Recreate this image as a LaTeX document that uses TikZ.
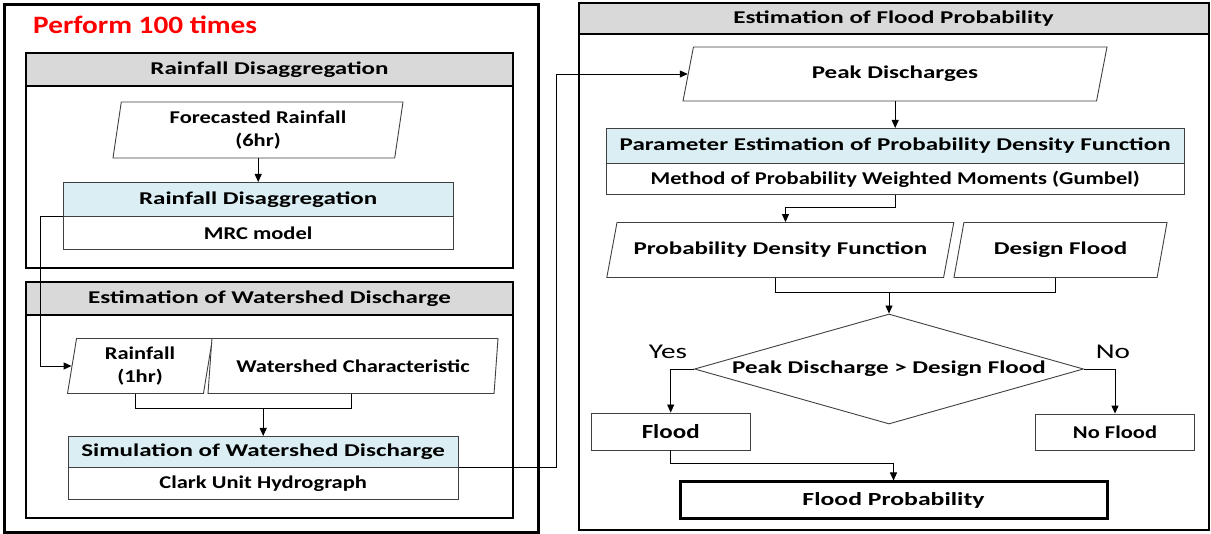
\documentclass[tikz,border=0pt]{standalone}
\usepackage{fontspec}
\setmainfont{Carlito}[FakeStretch=1.39]
\newfontfamily\widebody{Carlito}[FakeStretch=1.25]
\newfontfamily\titlefont{Carlito}[FakeStretch=1.17]
\usetikzlibrary{shapes.geometric,arrows.meta,calc}
\definecolor{hdrgray}{HTML}{D9D9D9}
\definecolor{hdrblue}{HTML}{DAEEF3}
\definecolor{edgegray}{HTML}{404040}
\begin{document}
\begin{tikzpicture}[x=1pt,y=-1pt,
  txt/.style={font=\fontsize{18}{23}\selectfont\bfseries},
  txtb/.style={font=\widebody\fontsize{18}{23}\selectfont\bfseries},
  frame/.style={draw=black,line width=2pt,inner sep=0pt,anchor=north west},
  grayhead/.style={frame,fill=hdrgray,txt},
  io/.style={trapezium,trapezium stretches body,trapezium left angle=#1,
    trapezium right angle=180-#1,draw=edgegray,line width=0.9pt,fill=white,
    inner sep=0pt,txt,align=center},
  head/.style={draw=edgegray,line width=0.9pt,fill=hdrblue,inner sep=0pt,txt,anchor=north west},
  body/.style={draw=edgegray,line width=0.9pt,fill=white,inner sep=0pt,txtb,anchor=north west},
  box/.style={draw=edgegray,line width=0.9pt,fill=white,inner sep=0pt,txt},
  flow/.style={draw=black,line width=0.9pt},
  arr/.style={flow,-{Triangle[length=8pt,width=7pt]}},
  yesno/.style={font=\fontsize{21}{24}\selectfont},
]
\useasboundingbox (0,0) rectangle (1211,534);

% ---- left block: repeated simulation ----
\node[frame,line width=3pt,minimum width=534,minimum height=528] (loop) at (3,3) {};
\node[anchor=base west,inner sep=0pt,text=red,font=\titlefont\fontsize{25}{28}\selectfont\bfseries] (loopttl) at (33,34) {Perform 100 times};

% rainfall disaggregation section
\node[frame,minimum width=487,minimum height=215] (rdsec) at (25,52) {};
\node[grayhead,minimum width=487,minimum height=33.5] (rdsech) at (25,52) {Rainfall Disaggregation};
\node[io=77.8,txtb,minimum width=290,minimum height=56] (fr) at (258,130) {Forecasted Rainfall\\(6hr)};
\node[head,minimum width=390.5,minimum height=34] (rdh) at (62.5,182) {Rainfall Disaggregation};
\node[body,minimum width=390.5,minimum height=33] (rdb) at (62.5,216) {MRC model};

% watershed discharge section
\node[frame,minimum width=487,minimum height=236] (wssec) at (25,281) {};
\node[grayhead,minimum width=487,minimum height=33] (wssech) at (25,281) {Estimation of Watershed Discharge};
\node[io=76.7,txtb,minimum width=145,minimum height=55] (rain1) at (140,366) {Rainfall\\(1hr)};
\node[io=72.8,txtb,minimum width=290,minimum height=55] (ws) at (353,366) {Watershed Characteristic};
\node[head,minimum width=390.5,minimum height=31] (simh) at (67.5,436) {Simulation of Watershed Discharge};
\node[body,minimum width=390.5,minimum height=32] (simb) at (67.5,467) {Clark Unit Hydrograph};

% ---- right block: flood probability ----
\node[frame,minimum width=630,minimum height=527] (fpsec) at (577.5,2.5) {};
\node[grayhead,minimum width=630,minimum height=31] (fpsech) at (577.5,2.5) {Estimation of Flood Probability};
\node[io=56.3,minimum width=424,minimum height=54] (peak) at (895,74) {Peak Discharges};
\node[head,minimum width=578.5,minimum height=35] (peh) at (605.5,128) {Parameter Estimation of Probability Density Function};
\node[body,minimum width=578.5,minimum height=31] (peb) at (605.5,163) {Method of Probability Weighted Moments (Gumbel)};
\node[io=56.6,minimum width=347,minimum height=55] (pdf) at (780.3,250) {Probability Density Function};
\node[io=57.7,minimum width=213,minimum height=55] (df) at (1060.5,250) {Design Flood};
\node[diamond,draw=edgegray,line width=0.9pt,fill=white,inner sep=0pt,aspect=3.53,
  minimum width=389,minimum height=110,txt] (dia) at (889,369) {Peak Discharge > Design Flood};
\node[box,minimum width=159.5,minimum height=37,font=\widebody\fontsize{20}{24}\selectfont\bfseries] (flood) at (670.7,431.5) {Flood};
\node[box,txtb,minimum width=159,minimum height=36.5] (noflood) at (1115,432.3) {No Flood};
\node[box,draw=black,line width=3pt,minimum width=427,minimum height=37,font=\fontsize{18.5}{22}\selectfont\bfseries] (fp) at (893.5,500.5) {Flood Probability};
\node[yesno] (yes) at (668,352) {Yes};
\node[yesno] (no) at (1113,352) {No};

% ---- connectors ----
\coordinate (rdturn) at (40.5,0);
\coordinate (j1) at (0,408);
\coordinate (simturn) at (556,0);
\coordinate (j2) at (0,292);

\draw[arr] (rdh.north |- fr.bottom side) -- (rdh.north);
\draw[arr] (rdh.south west) -- (rdh.south west -| rdturn) |- (rain1.left side);
\draw[flow] (rain1.bottom side) |- (ws.bottom side |- j1) -- (ws.bottom side);
\draw[arr] (simh.north |- j1) -- (simh.north);
\draw[arr] (simh.south east) -- (simh.south east -| simturn) |- (peak.left side);
\draw[arr] (peh.north |- peak.bottom side) -- (peh.north);
\draw[arr] (peb.south) -- ++(0,13) -| (pdf.top side);
\draw[flow] (pdf.bottom side) |- (df.bottom side |- j2) -- (df.bottom side);
\draw[arr] (dia.north |- j2) -- (dia.north);
\draw[arr] (dia.west) -| (flood.north);
\draw[arr] (dia.east) -| (noflood.north);
\draw[arr] (flood.south) -- ++(0,13) -| (fp.north);
\end{tikzpicture}
\end{document}
